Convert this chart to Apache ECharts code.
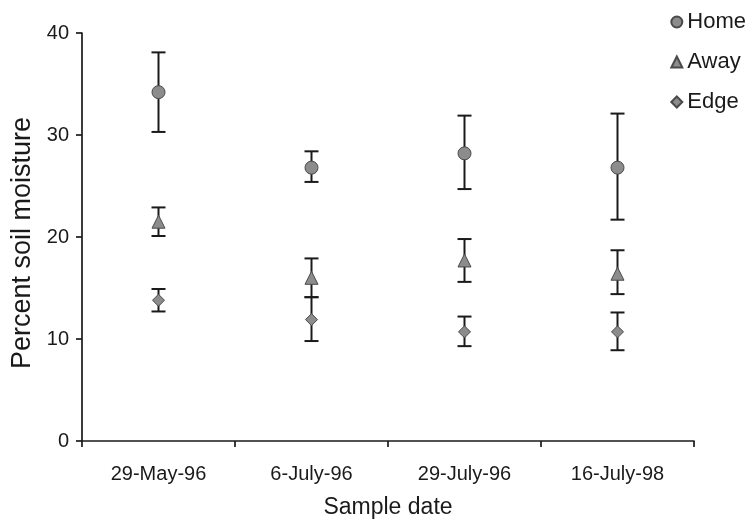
<!DOCTYPE html>
<html>
<head>
<meta charset="utf-8">
<script src="https://cdn.jsdelivr.net/npm/echarts@6/dist/echarts.min.js"></script>
<style>html,body{margin:0;padding:0;background:#fff;}#c{width:752px;height:524px;}</style>
</head>
<body>
<div id="c"></div>
<script>
const categories = ['29-May-96', '6-July-96', '29-July-96', '16-July-98'];
const yTicks = [0, 10, 20, 30, 40];

const homeMean = [34.2, 26.8, 28.2, 26.8];
const homeLow  = [30.3, 25.4, 24.7, 21.7];
const homeHigh = [38.1, 28.4, 31.9, 32.1];

const awayMean = [21.5, 16.0, 17.7, 16.4];
const awayLow  = [20.1, 14.1, 15.6, 14.4];
const awayHigh = [22.9, 17.9, 19.8, 18.7];

const edgeMean = [13.8, 11.9, 10.7, 10.7];
const edgeLow  = [12.7, 9.8, 9.3, 8.9];
const edgeHigh = [14.9, 14.1, 12.2, 12.6];

const chart = echarts.init(document.getElementById('c'));
const FONT = '"Liberation Sans", Arial, sans-serif';
const markerColor = '#8c8c8c';
const markerBorder = '#4a4a4a';
const ink = '#1a1a1a';

function errData(low, high) {
  return categories.map((c, i) => [i, low[i], high[i]]);
}
function errSeries(low, high) {
  return {
    type: 'custom',
    silent: true,
    z: 1,
    data: errData(low, high),
    encode: { x: 0, y: [1, 2] },
    renderItem: function (params, api) {
      const x = api.value(0);
      const lo = api.coord([x, api.value(1)]);
      const hi = api.coord([x, api.value(2)]);
      const hw = 7;
      const style = { stroke: ink, lineWidth: 2 };
      return {
        type: 'group',
        children: [
          { type: 'line', shape: { x1: lo[0], y1: lo[1], x2: hi[0], y2: hi[1] }, style: style },
          { type: 'line', shape: { x1: hi[0] - hw, y1: hi[1], x2: hi[0] + hw, y2: hi[1] }, style: style },
          { type: 'line', shape: { x1: lo[0] - hw, y1: lo[1], x2: lo[0] + hw, y2: lo[1] }, style: style }
        ]
      };
    }
  };
}
function meanSeries(name, data, symbol, size) {
  return {
    name: name,
    type: 'scatter',
    z: 3,
    symbol: symbol,
    symbolSize: size,
    data: data,
    itemStyle: { color: markerColor, borderColor: markerBorder, borderWidth: 1, opacity: 1 }
  };
}

chart.setOption({
  animation: false,
  backgroundColor: '#fff',
  textStyle: { fontFamily: FONT },
  legend: {
    orient: 'vertical',
    right: 1,
    top: 6,
    itemGap: 18,
    itemWidth: 11,
    itemHeight: 11,
    textStyle: { fontFamily: FONT, fontSize: 22, color: ink },
    data: [
      { name: 'Home', icon: 'circle' },
      { name: 'Away', icon: 'triangle' },
      { name: 'Edge', icon: 'diamond' }
    ]
  },
  grid: { left: 82, right: 58, top: 33, bottom: 81, containLabel: false },
  xAxis: {
    type: 'category',
    data: categories,
    boundaryGap: true,
    name: 'Sample date',
    nameLocation: 'middle',
    nameGap: 55,
    nameTextStyle: { fontFamily: FONT, fontSize: 23, color: ink },
    axisLine: { lineStyle: { color: ink, width: 1.7 } },
    axisTick: { show: true, alignWithLabel: false, length: 6, lineStyle: { color: ink, width: 1.7 } },
    axisLabel: { fontFamily: FONT, fontSize: 20, color: ink, margin: 23 },
    splitLine: { show: false }
  },
  yAxis: {
    type: 'value',
    min: yTicks[0],
    max: yTicks[yTicks.length - 1],
    interval: 10,
    name: 'Percent soil moisture',
    nameLocation: 'middle',
    nameGap: 46,
    nameRotate: 90,
    nameTextStyle: { fontFamily: FONT, fontSize: 27, color: ink, padding: [0, 12, 0, 0] },
    axisLine: { show: true, lineStyle: { color: ink, width: 1.7 } },
    axisTick: { show: true, length: 6, lineStyle: { color: ink, width: 1.7 } },
    axisLabel: { fontFamily: FONT, fontSize: 20, color: ink, margin: 13 },
    splitLine: { show: false }
  },
  series: [
    errSeries(homeLow, homeHigh),
    errSeries(awayLow, awayHigh),
    errSeries(edgeLow, edgeHigh),
    meanSeries('Home', homeMean, 'circle', 13),
    meanSeries('Away', awayMean, 'triangle', 13),
    meanSeries('Edge', edgeMean, 'diamond', 12)
  ]
});
</script>
</body>
</html>
